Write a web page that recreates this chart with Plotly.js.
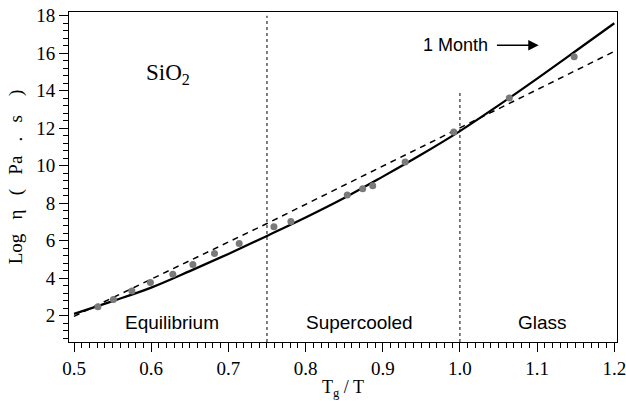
<!DOCTYPE html>
<html>
<head>
<meta charset="utf-8">
<script src="https://cdn.plot.ly/plotly-3.0.1.min.js"></script>
<style>html,body{margin:0;padding:0;background:#fff;}#chart{width:626px;height:401px;}</style>
</head>
<body>
<div id="chart"></div>
<script>
// Measured viscosity points (Tg/T, log eta)
const dataX = [0.531, 0.551, 0.575, 0.599, 0.628, 0.654, 0.682, 0.714, 0.759, 0.781, 0.854, 0.874, 0.887, 0.929, 0.992, 1.064, 1.148];
const dataY = [2.48, 2.87, 3.32, 3.77, 4.22, 4.74, 5.32, 5.86, 6.75, 7.03, 8.44, 8.78, 8.93, 10.20, 11.80, 13.62, 15.81];

// Solid fit curve
const fitX = [0.50, 0.55, 0.60, 0.65, 0.70, 0.75, 0.80, 0.85, 0.90, 0.95, 1.00, 1.05, 1.10, 1.15, 1.20];
const fitY = [2.10, 2.78, 3.50, 4.38, 5.30, 6.26, 7.24, 8.28, 9.42, 10.60, 11.85, 13.22, 14.65, 16.12, 17.60];

// Dashed (Arrhenius-like) line
const lineX = [0.50, 0.75, 1.00, 1.20];
const lineY = [1.97, 6.92, 12.02, 16.10];

// Region boundaries and labels
const boundaryX = [0.75, 1.0];
const boundaryTop = [18.0, 14.0];
const regionNames = ["Equilibrium", "Supercooled", "Glass"];
const regionX = [0.627, 0.870, 1.107];

const xTicks = [0.5, 0.6, 0.7, 0.8, 0.9, 1.0, 1.1, 1.2];
const yTicks = [2, 4, 6, 8, 10, 12, 14, 16, 18];

const serif = "Liberation Serif, Times New Roman, serif";
const sans = "Liberation Sans, Arial, sans-serif";
const nb = "\u00A0";

const traces = [
  {x: lineX, y: lineY, mode: "lines", line: {color: "#000", width: 1.5, dash: "6px,5px"}, hoverinfo: "skip"},
  {x: fitX, y: fitY, mode: "lines", line: {color: "#000", width: 2.2, shape: "spline"}, hoverinfo: "skip"},
  {x: dataX, y: dataY, mode: "markers", marker: {color: "#7a7a7a", size: 7}, hoverinfo: "skip"}
];

const shapes = boundaryX.map((bx, i) => ({
  type: "line", xref: "x", yref: "y", x0: bx, x1: bx, y0: 0.6, y1: boundaryTop[i],
  line: {color: "#000", width: 1, dash: "dot"}
}));

const annotations = regionNames.map((t, i) => ({
  x: regionX[i], y: 1.65, xref: "x", yref: "y", text: t, showarrow: false,
  font: {family: sans, size: 19, color: "#000"}
}));
annotations.push({
  x: 0.622, y: 14.9, xref: "x", yref: "y", text: "SiO<sub>2</sub>", showarrow: false,
  font: {family: serif, size: 23, color: "#000"}
});
annotations.push({
  x: 1.0395, y: 16.43, xref: "x", yref: "y", text: "1 Month", showarrow: false,
  xanchor: "right", font: {family: sans, size: 18, color: "#000"}
});
annotations.push({
  x: 1.102, y: 16.43, ax: 1.046, ay: 16.43, xref: "x", yref: "y", axref: "x", ayref: "y",
  text: "", showarrow: true, arrowhead: 2, arrowsize: 1.3, arrowwidth: 1.6, arrowcolor: "#000"
});

const yTitle = ["Log", "η", "(", "Pa", ".", "s", nb + ")"].join(nb + nb + nb);

const layout = {
  width: 626, height: 401,
  margin: {l: 69, r: 9, t: 12, b: 59},
  paper_bgcolor: "#fff", plot_bgcolor: "#fff",
  showlegend: false,
  xaxis: {
    range: [0.4935, 1.2035], tickvals: xTicks, tickformat: ".1f",
    ticks: "outside", ticklen: 9, tickwidth: 1, tickcolor: "#000",
    ticklabeloverflow: "allow",
    minor: {dtick: 0.01, ticks: "outside", ticklen: 5, tickwidth: 1, tickcolor: "#000", showgrid: false},
    showline: true, linecolor: "#000", linewidth: 1, mirror: true,
    showgrid: false, zeroline: false,
    tickfont: {family: serif, size: 19, color: "#000"},
    title: {text: "T<sub>g</sub> / T", font: {family: serif, size: 18, color: "#000"}, standoff: 2}
  },
  yaxis: {
    range: [0.6, 18.2], tickvals: yTicks,
    ticks: "outside", ticklen: 9, tickwidth: 1, tickcolor: "#000",
    ticklabeloverflow: "allow",
    minor: {dtick: 0.4, ticks: "outside", ticklen: 5, tickwidth: 1, tickcolor: "#000", showgrid: false},
    showline: true, linecolor: "#000", linewidth: 1, mirror: true,
    showgrid: false, zeroline: false,
    tickfont: {family: serif, size: 19, color: "#000"},
    title: {text: yTitle, font: {family: serif, size: 19, color: "#000"}, standoff: 8}
  },
  shapes: shapes,
  annotations: annotations
};

Plotly.newPlot("chart", traces, layout, {staticPlot: true, displayModeBar: false});
</script>
</body>
</html>
